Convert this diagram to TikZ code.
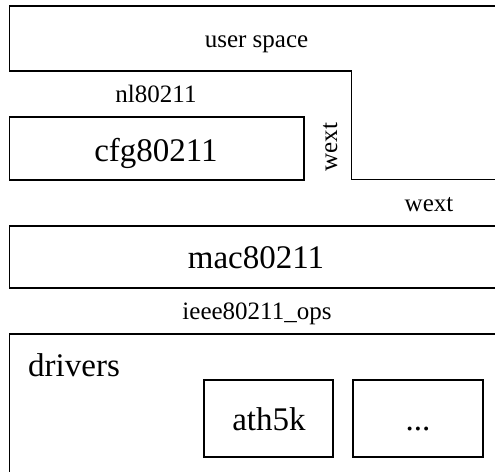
\documentclass[tikz,border=0pt]{standalone}
\usepackage{fontspec}
\setmainfont{Liberation Serif}
\begin{document}
\begin{tikzpicture}[x=1pt,y=-1pt,
  frame/.style={draw=black,line width=1.8pt,line join=miter},
  small/.style={inner sep=0pt,anchor=base,font=\fontsize{25}{30}\selectfont},
  big/.style={inner sep=0pt,anchor=base,font=\fontsize{33}{40}\selectfont}]
\useasboundingbox (0,0) rectangle (495,471);
\clip (0,0) rectangle (495,471);
% layers (open on the right side)
\draw[frame] (510,6) -- (9.5,6) -- (9.5,71) -- (351.5,71) -- (351.5,179.5) -- (510,179.5);
\draw[frame] (9.5,117) rectangle (304,180);
\draw[frame] (510,226) -- (9.5,226) -- (9.5,288) -- (510,288);
\draw[frame] (510,334) -- (9.5,334) -- (9.5,490);
\draw[frame] (204,380) rectangle (333,457);
\draw[frame] (353,380) rectangle (483,457);
% labels
\node[small] (user) at (256.5,47) {user space};
\node[small] (nl) at (156,102) {nl80211};
\node[big] (cfg) at (156,161) {cfg80211};
\node[small,rotate=90] (wextv) at (337,147) {wext};
\node[small] (wexth) at (429,211) {wext};
\node[big] (mac) at (256,268) {mac80211};
\node[small] (ops) at (257,319) {ieee80211\_ops};
\node[big,anchor=base west] (drv) at (28,376) {drivers};
\node[big] (ath) at (269,430) {ath5k};
\node[big] (more) at (418,430) {...};
\end{tikzpicture}
\end{document}
